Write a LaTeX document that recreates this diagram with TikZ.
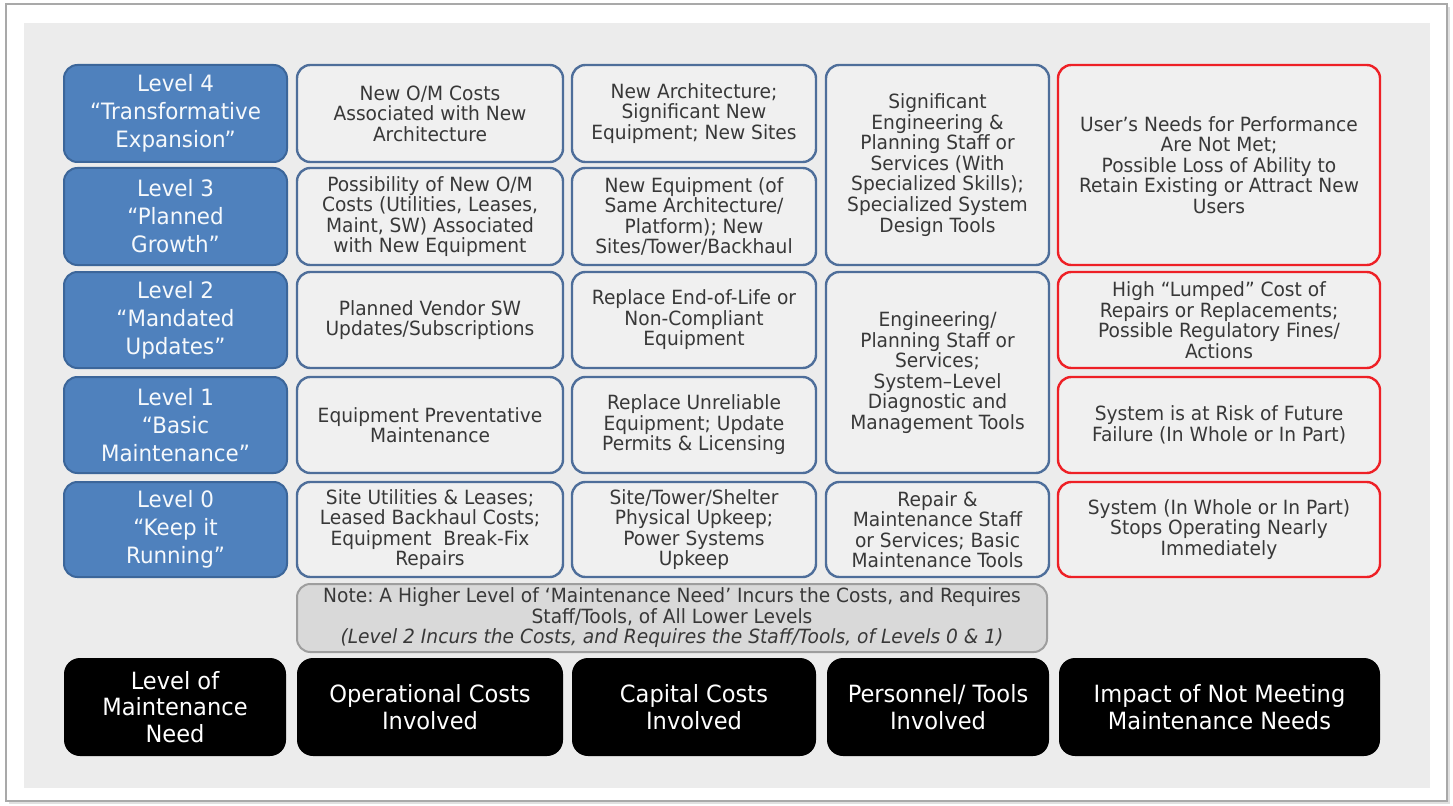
\documentclass[tikz,border=0pt]{standalone}
\usepackage{fontspec}
\setmainfont{DejaVu Sans}[FakeStretch=0.95]
\frenchspacing

\definecolor{framegray}{HTML}{A9A9A9}
\definecolor{bggray}{HTML}{ECECEC}
\definecolor{cellfill}{HTML}{F0F0F0}
\definecolor{cellblue}{HTML}{4E6E9A}
\definecolor{levelblue}{HTML}{4F81BD}
\definecolor{levelline}{HTML}{3C669A}
\definecolor{impactred}{HTML}{EE2026}
\definecolor{notefill}{HTML}{D9D9D9}
\definecolor{noteline}{HTML}{9E9E9E}
\definecolor{textgray}{HTML}{383838}

\begin{document}
\begin{tikzpicture}[x=0.75pt,y=-0.75pt,
  sz/.style 2 args={minimum width=#1*0.75pt,minimum height=#2*0.75pt},
  level/.style={draw=levelline,fill=levelblue,line width=1.5pt,rounded corners=10pt,
    text=white!95!levelblue,align=center,inner sep=0pt,font=\fontsize{16.9}{21}\selectfont},
  cell/.style={draw=cellblue,fill=cellfill,line width=1.8pt,rounded corners=10pt,
    text=textgray,align=center,inner sep=0pt,font=\fontsize{14.7}{15.4}\selectfont},
  impact/.style={cell,draw=impactred},
  notebox/.style={cell,draw=noteline,fill=notefill,line width=1.5pt},
  head/.style={fill=black,rounded corners=12pt,text=white,align=center,inner sep=0pt,
    font=\fontsize{17.8}{19.9}\selectfont}]
  \useasboundingbox (0,0) rectangle (1453,806);

  % frame and background
  \fill[black!12] (9,7) rectangle (1450,804);
  \draw[framegray,line width=1.1pt,fill=white] (6,4) rectangle (1447,801);
  \fill[bggray] (24,23) rectangle (1430,788);

  % level of maintenance need
  \node[level,sz={223}{97}] (lvl4) at (175.5,113.5) {Level 4\\“Transformative\\Expansion”};
  \node[level,sz={223}{97}] (lvl3) at (175.5,216.5) {Level 3\\“Planned\\Growth”};
  \node[level,sz={223}{96}] (lvl2) at (175.5,320) {Level 2\\“Mandated\\Updates”};
  \node[level,sz={223}{96}] (lvl1) at (175.5,425) {Level 1\\“Basic\\Maintenance”};
  \node[level,sz={223}{95}] (lvl0) at (175.5,529.5) {Level 0\\“Keep it\\Running”};

  % operational costs
  \node[cell,sz={266}{97}] (ops4) at (430,113.5) {New O/M Costs\\Associated with New\\Architecture};
  \node[cell,sz={266}{97}] (ops3) at (430,216.5) {Possibility of New O/M\\Costs (Utilities, Leases,\\Maint, SW) Associated\\with New Equipment};
  \node[cell,sz={266}{96}] (ops2) at (430,320) {Planned Vendor SW\\Updates/Subscriptions};
  \node[cell,sz={266}{96}] (ops1) at (430,425) {Equipment Preventative\\Maintenance};
  \node[cell,sz={266}{95}] (ops0) at (430,529.5) {Site Utilities \& Leases;\\Leased Backhaul Costs;\\Equipment\ \ Break-Fix\\Repairs};

  % capital costs
  \node[cell,sz={244}{97}] (cap4) at (694,113.5) {New Architecture;\\Significant New\\Equipment; New Sites};
  \node[cell,sz={244}{97}] (cap3) at (694,216.5) {New Equipment (of\\Same Architecture/\\Platform); New\\Sites/Tower/Backhaul};
  \node[cell,sz={244}{96}] (cap2) at (694,320) {Replace End-of-Life or\\Non-Compliant\\Equipment};
  \node[cell,sz={244}{96}] (cap1) at (694,425) {Replace Unreliable\\Equipment; Update\\Permits \& Licensing};
  \node[cell,sz={244}{95}] (cap0) at (694,529.5) {Site/Tower/Shelter\\Physical Upkeep;\\Power Systems\\Upkeep};

  % personnel / tools
  \node[cell,sz={223}{200}] (staff43) at (937.5,165) {Significant\\Engineering \&\\Planning Staff or\\Services (With\\Specialized Skills);\\Specialized System\\Design Tools};
  \node[cell,sz={223}{201}] (staff21) at (937.5,372.5) {Engineering/\\Planning Staff or\\Services;\\System–Level\\Diagnostic and\\Management Tools};
  \node[cell,sz={223}{95}] (staff0) at (937.5,529.5) {Repair \&\\Maintenance Staff\\or Services; Basic\\Maintenance Tools};

  % impact
  \node[impact,sz={322}{200}] (imp43) at (1219,165) {User’s Needs for Performance\\Are Not Met;\\Possible Loss of Ability to\\Retain Existing or Attract New\\Users};
  \node[impact,sz={322}{96}] (imp2) at (1219,320) {High “Lumped” Cost of\\Repairs or Replacements;\\Possible Regulatory Fines/\\Actions};
  \node[impact,sz={322}{96}] (imp1) at (1219,425) {System is at Risk of Future\\Failure (In Whole or In Part)};
  \node[impact,sz={322}{95}] (imp0) at (1219,529.5) {System (In Whole or In Part)\\Stops Operating Nearly\\Immediately};

  % note
  \node[notebox,sz={750}{68}] (note) at (672,618) {Note: A Higher Level of ‘Maintenance Need’ Incurs the Costs, and Requires\\Staff/Tools, of All Lower Levels\\\textit{(Level 2 Incurs the Costs, and Requires the Staff/Tools, of Levels 0 \& 1)}};

  % column headings
  \node[head,sz={222}{98}] (hlvl) at (175,707) {Level of\\Maintenance\\Need};
  \node[head,sz={266}{98}] (hops) at (430,707) {Operational Costs\\Involved};
  \node[head,sz={244}{98}] (hcap) at (694,707) {Capital Costs\\Involved};
  \node[head,sz={222}{98}] (hstaff) at (938,707) {Personnel/ Tools\\Involved};
  \node[head,sz={321}{98}] (himp) at (1219.5,707) {Impact of Not Meeting\\Maintenance Needs};
\end{tikzpicture}
\end{document}
